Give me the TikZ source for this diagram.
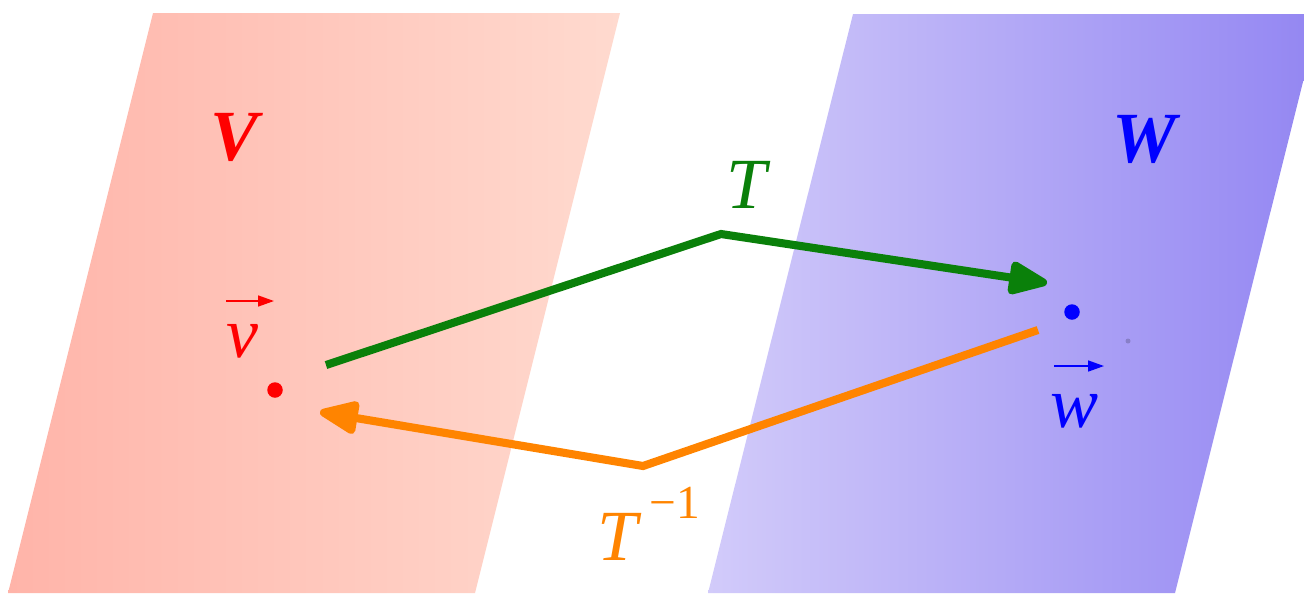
\documentclass[tikz,border=0pt]{standalone}
\usepackage{fontspec}
\setmainfont{Liberation Serif}
\usetikzlibrary{arrows.meta}
\definecolor{RedPale}{HTML}{FFB4A9}
\definecolor{RedLight}{HTML}{FFDACF}
\definecolor{BlueLight}{HTML}{D2CBFA}
\definecolor{BlueDeep}{HTML}{9386F2}
\definecolor{MapGreen}{HTML}{0A800A}
\definecolor{MapOrange}{HTML}{FF8400}

\begin{document}
\begin{tikzpicture}[x=0.02cm,y=-0.02cm,
  big/.style={font=\fontsize{41}{46}\selectfont\itshape},
  mapline/.style={line width=4.6pt,-{Triangle[length=9mm,width=7mm,round]}},
  vecbar/.style={line width=0.9pt,-{Triangle[length=3.2mm,width=2.2mm]}},
  dot/.style={circle,inner sep=0pt,minimum size=0.31cm}
]
\useasboundingbox (0,0) rectangle (1304,593);
% The two spaces.
\shade[left color=RedPale,right color=RedLight]
  (153,13)--(620,13)--(475,593)--(8,593)--cycle;
\shade[left color=BlueLight,right color=BlueDeep]
  (853,14)--(1320,14)--(1175,593)--(708,593)--cycle;
\node[big,font=\fontsize{41}{46}\selectfont\bfseries\itshape,red] (Vlab) at (235,137) {V};
\node[big,font=\fontsize{41}{46}\selectfont\bfseries\itshape,blue] (Wlab) at (1145,139) {W};

% Vectors.
\node[dot,fill=red] (vdot) at (275,390) {};
\node[dot,fill=blue] (wdot) at (1072,312) {};
\fill[black,opacity=0.18] (1128,341) circle (0.05cm);
\node[big,red] (vlab) at (242,341) {v};
\node[big,blue] (wlab) at (1075,411) {w};
\coordinate (va) at (226,301);
\coordinate (vb) at (274,301);
\coordinate (wa) at (1054,366);
\coordinate (wb) at (1104,366);
\draw[vecbar,red] (va)--(vb);
\draw[vecbar,blue] (wa)--(wb);

% The maps.
\coordinate (Tstart) at (326,365);
\coordinate (Tpeak) at (721,234);
\coordinate (Tend) at (1047,283);
\coordinate (Istart) at (1038,330);
\coordinate (Ivalley) at (643,466);
\coordinate (Iend) at (320,412);
\draw[mapline,MapGreen] (Tstart)--(Tpeak)--(Tend);
\draw[mapline,MapOrange] (Istart)--(Ivalley)--(Iend);
\node[big,MapGreen] (Tlab) at (747,185) {T};
\node[big,MapOrange,anchor=base west,inner sep=0pt] (Tinv) at (597,560)
  {T\,\raisebox{1.25ex}{\upshape\fontsize{27}{30}\selectfont −1}};
\end{tikzpicture}
\end{document}
